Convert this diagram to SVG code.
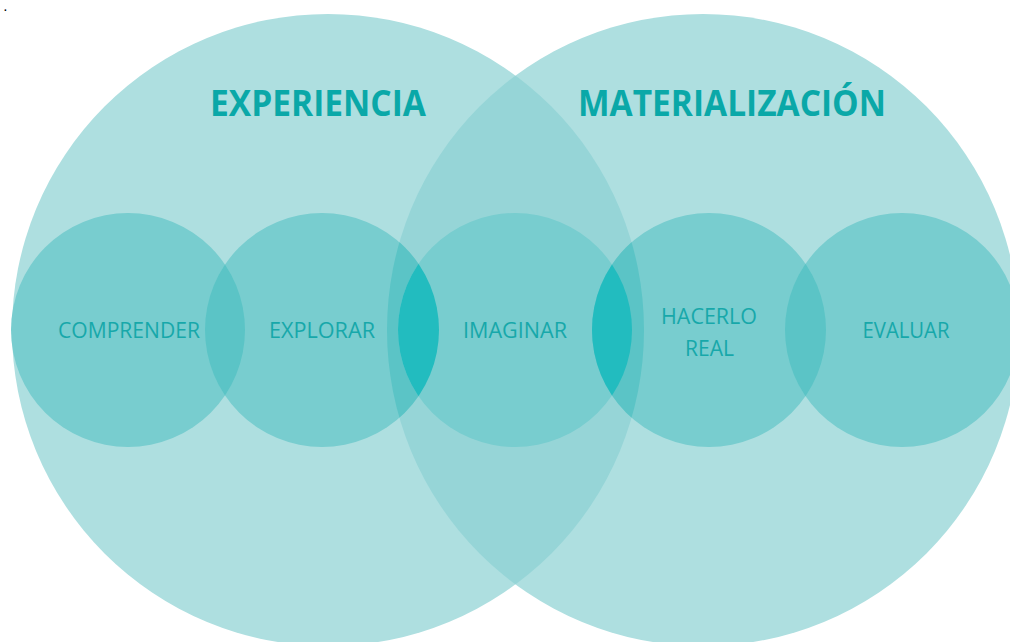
<svg xmlns="http://www.w3.org/2000/svg" width="1010" height="642" viewBox="0 0 1010 642">
  <style>
    .big { fill: #aedfe0; }
    .lens { fill: #96d5d7; }
    .small { fill: #78cdcf; }
    .ov { fill: #5bc4c6; }
    .deep { fill: #22bcbf; }
    .title { font-family: "Open Sans", "Liberation Sans", sans-serif; font-weight: 700; font-size: 36px; fill: #0aa8a8; }
    .lbl { font-family: "Open Sans", "Liberation Sans", sans-serif; font-weight: 400; font-size: 21px; fill: #17a8aa; text-anchor: middle; }
  </style>
  <defs>
    <clipPath id="cBigL"><circle cx="328" cy="330" r="316"/></clipPath>
    <clipPath id="cBigR"><circle cx="703" cy="330" r="316"/></clipPath>
    <clipPath id="cComp"><circle cx="128" cy="330" r="117"/></clipPath>
    <clipPath id="cExpl"><circle cx="322" cy="330" r="117"/></clipPath>
    <clipPath id="cHac"><circle cx="709" cy="330" r="117"/></clipPath>
    <clipPath id="cEval"><circle cx="902" cy="330" r="117"/></clipPath>
  </defs>
  <rect width="1010" height="642" fill="#ffffff"/>
  <text x="4" y="11" font-family="Liberation Sans, sans-serif" font-size="10" font-weight="700" fill="#000">.</text>

  <g id="experiencia">
    <circle class="big" cx="328" cy="330" r="316"/>
  </g>
  <g id="materializacion">
    <circle class="big" cx="703" cy="330" r="316"/>
    <circle class="lens" cx="703" cy="330" r="316" clip-path="url(#cBigL)"/>
  </g>

  <g id="comprender">
    <circle class="small" cx="128" cy="330" r="117"/>
  </g>
  <g id="explorar">
    <circle class="small" cx="322" cy="330" r="117"/>
    <circle class="ov" cx="322" cy="330" r="117" clip-path="url(#cComp)"/>
    <circle class="ov" cx="322" cy="330" r="117" clip-path="url(#cBigR)"/>
  </g>
  <g id="imaginar">
    <circle class="small" cx="515" cy="330" r="117"/>
    <circle class="deep" cx="515" cy="330" r="117" clip-path="url(#cExpl)"/>
  </g>
  <g id="hacerlo-real">
    <circle class="small" cx="709" cy="330" r="117"/>
    <circle class="ov" cx="709" cy="330" r="117" clip-path="url(#cBigL)"/>
    <circle class="deep" cx="515" cy="330" r="117" clip-path="url(#cHac)"/>
  </g>
  <g id="evaluar">
    <circle class="small" cx="902" cy="330" r="117"/>
    <circle class="ov" cx="709" cy="330" r="117" clip-path="url(#cEval)"/>
  </g>

  <g id="labels">
    <text class="title" x="210" y="116" textLength="216" lengthAdjust="spacingAndGlyphs">EXPERIENCIA</text>
    <text class="title" x="578" y="116" textLength="308" lengthAdjust="spacingAndGlyphs">MATERIALIZACIÓN</text>
    <text class="lbl" x="129" y="338" textLength="142" lengthAdjust="spacingAndGlyphs">COMPRENDER</text>
    <text class="lbl" x="322" y="338" textLength="106" lengthAdjust="spacingAndGlyphs">EXPLORAR</text>
    <text class="lbl" x="515" y="338" textLength="104" lengthAdjust="spacingAndGlyphs">IMAGINAR</text>
    <text class="lbl" x="709" y="324" textLength="96" lengthAdjust="spacingAndGlyphs">HACERLO</text>
    <text class="lbl" x="709.5" y="356" textLength="49" lengthAdjust="spacingAndGlyphs">REAL</text>
    <text class="lbl" x="906" y="338" textLength="87" lengthAdjust="spacingAndGlyphs">EVALUAR</text>
  </g>
</svg>
